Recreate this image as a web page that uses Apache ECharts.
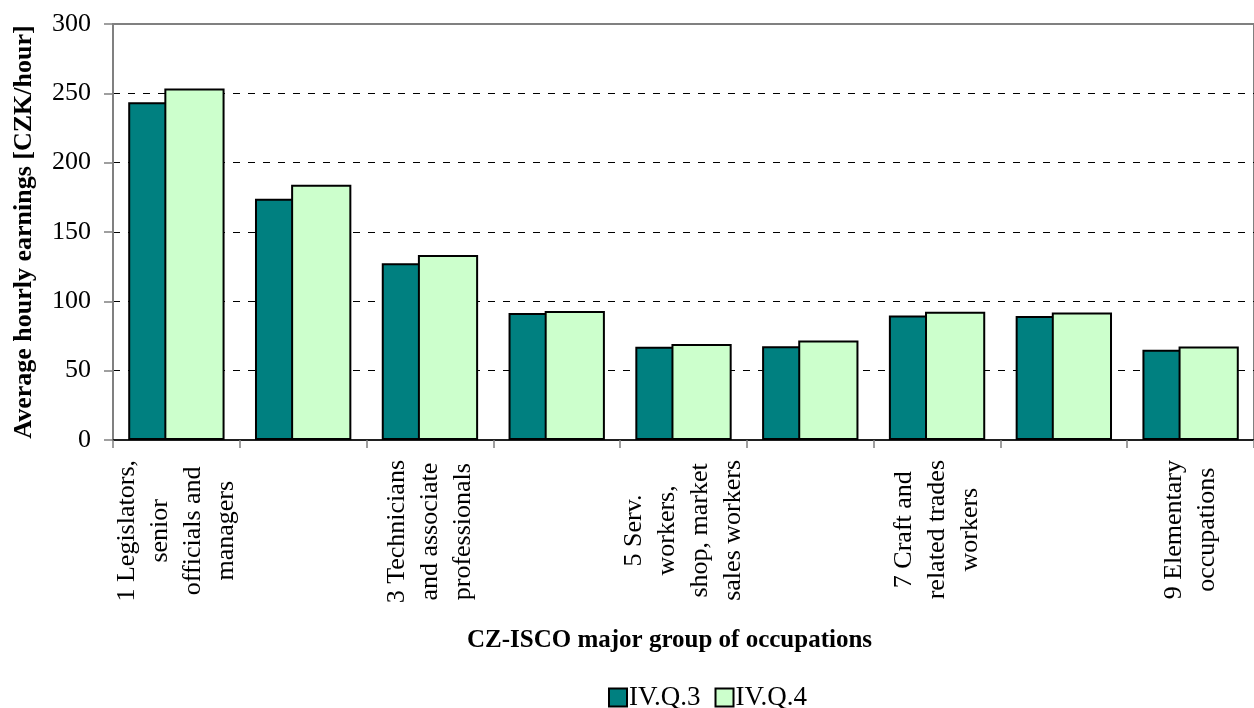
<!DOCTYPE html>
<html>
<head>
<meta charset="utf-8">
<script src="https://cdn.jsdelivr.net/npm/echarts@6/dist/echarts.min.js"></script>
<style>
  html, body { margin: 0; padding: 0; background: #fff; }
  #chart { width: 1254px; height: 708px; }
</style>
</head>
<body>
<div id="chart"></div>
<script>
// occupation groups (CZ-ISCO), only odd ones get a label in the original
var categories = [
  '1 Legislators,\nsenior\nofficials and\nmanagers',
  '2 Professionals',
  '3 Technicians\nand associate\nprofessionals',
  '4 Clerks',
  '5 Serv.\nworkers,\nshop, market\nsales workers',
  '6 Skilled agricultural\nand fishery workers',
  '7 Craft and\nrelated trades\nworkers',
  '8 Plant and machine\noperators',
  '9 Elementary\noccupations'
]
var q3 = [243.5, 174, 127.5, 91.5, 67.3, 67.6, 89.8, 89.4, 65]
var q4 = [253.5, 184, 133.5, 93, 69.3, 71.8, 92.5, 92, 67.5]
var yTicks = [0, 50, 100, 150, 200, 250, 300]

var font = '"Liberation Serif", "Times New Roman", serif'

var chart = echarts.init(document.getElementById('chart'))
var option = {
  backgroundColor: '#fff',
  animation: false,
  color: ['#008080', '#CCFFCC'],
  grid: {
    left: 113,
    right: -11,
    top: 24,
    bottom: 268,
    show: true,
    borderColor: '#808080',
    borderWidth: 2
  },
  legend: {
    left: 603,
    top: 679,
    itemWidth: 18,
    itemHeight: 18,
    itemGap: 14,
    icon: 'rect',
    textStyle: { fontFamily: font, fontSize: 27, color: '#000', padding: [0, 0, 0, -3] },
    itemStyle: { borderColor: '#000', borderWidth: 2 },
    data: ['IV.Q.3', 'IV.Q.4']
  },
  xAxis: {
    type: 'category',
    data: categories,
    name: 'CZ-ISCO major group of occupations',
    nameLocation: 'middle',
    nameGap: 188,
    nameTextStyle: {
      fontFamily: font, fontSize: 25, fontWeight: 'bold', color: '#000',
      padding: [0, 28, 0, 0]
    },
    axisLine: { lineStyle: { color: '#000', width: 1.5 } },
    axisTick: { show: true, interval: 0, length: 8, lineStyle: { color: '#808080', width: 1.5 } },
    axisLabel: {
      interval: 1,
      rotate: 90,
      margin: 20,
      color: '#000',
      fontFamily: font,
      fontSize: 26,
      lineHeight: 33,
      formatter: function (v) {
        return v.split('\n').map(function (s) { return '{c|' + s + '}' }).join('\n')
      },
      rich: {
        c: { align: 'center', fontFamily: font, fontSize: 26, lineHeight: 33, color: '#000' }
      }
    }
  },
  yAxis: {
    type: 'value',
    min: yTicks[0],
    max: yTicks[yTicks.length - 1],
    interval: 50,
    name: 'Average hourly earnings [CZK/hour]',
    nameLocation: 'middle',
    nameGap: 76,
    nameTextStyle: { fontFamily: font, fontSize: 26, fontWeight: 'bold', color: '#000' },
    axisLine: { show: true, lineStyle: { color: '#808080', width: 2 } },
    axisTick: { show: true, length: 9, lineStyle: { color: '#808080', width: 1.5 } },
    axisLabel: { margin: 22, color: '#000', fontFamily: font, fontSize: 26 },
    splitLine: {
      show: true,
      showMinLine: false,
      showMaxLine: false,
      lineStyle: { color: '#000', type: [7, 8], width: 1 }
    }
  },
  series: [
    {
      name: 'IV.Q.3',
      type: 'bar',
      data: q3,
      barGap: '-40%',
      barCategoryGap: '24%',
      itemStyle: { borderColor: '#000', borderWidth: 2 }
    },
    {
      name: 'IV.Q.4',
      type: 'bar',
      data: q4,
      barGap: '-40%',
      barCategoryGap: '24%',
      itemStyle: { borderColor: '#000', borderWidth: 2 }
    }
  ]
}
chart.setOption(option)
</script>
</body>
</html>
